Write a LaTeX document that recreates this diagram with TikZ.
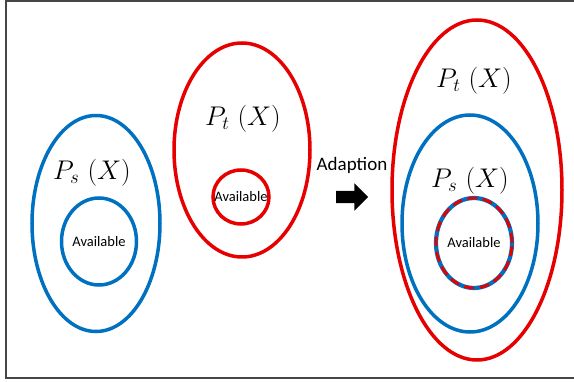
\RequirePackage{fix-cm}
\documentclass[tikz,border=0pt]{standalone}
\usepackage{fontspec}
\setsansfont{Carlito}
\usetikzlibrary{shapes.geometric,shapes.arrows}
\definecolor{setred}{RGB}{230,0,0}
\definecolor{setblue}{RGB}{0,112,192}
\definecolor{framegray}{RGB}{70,70,70}
\tikzset{
    setline/.style = {ellipse, draw, line width=3.5pt, inner sep=0pt},
    setlabel/.style = {font=\fontsize{27}{31}\selectfont},
    avail/.style = {label={[font=\sffamily\fontsize{14.5}{16}\selectfont]center:Available}},
    mixed/.style = {postaction={draw=setred, line width=2.8pt, dash pattern=on 10pt off 5.5pt}},
    adaptarrow/.style = {single arrow, fill=black, inner xsep=0pt, inner ysep=6pt, minimum height=32pt, single arrow head extend=7.5pt}
}

\begin{document}
\begin{tikzpicture}[x=1pt, y=-1pt]
\useasboundingbox (0,0) rectangle (574,382);
% frame
\draw [framegray, line width=2pt] (578,1) -- (5.5,1) -- (5.5,378) -- (578,378);

% source domain
\node (src) [setline, draw=setblue, minimum width=128pt, minimum height=216pt] at (96,223.5) {};
\node (srclabel) [setlabel] at (92,173) {$P_s\ (X)$};
\node (srcavail) [setline, draw=setblue, avail, minimum width=75pt, minimum height=87pt] at (99,241.5) {};

% target domain
\node (tgt) [setline, draw=setred, minimum width=136pt, minimum height=214pt] at (242,150) {};
\node (tgtlabel) [setlabel] at (243,119) {$P_t\ (X)$};
\node (tgtavail) [setline, draw=setred, avail, minimum width=56pt, minimum height=54pt] at (241,197) {};

% adaption step
\node (adaptlabel) [font=\sffamily\fontsize{19}{22}\selectfont] at (352,165) {Adaption};
\node (adapt) [adaptarrow] at (349,197) {};

% after adaption
\node (both) [setline, draw=setred, minimum width=170pt, minimum height=340pt] at (477,190) {};
\node (bothtgt) [setlabel] at (474,81) {$P_t\ (X)$};
\node (bothsrc) [setline, draw=setblue, minimum width=136pt, minimum height=217pt] at (470,223.5) {};
\node (bothsrclabel) [setlabel] at (470,181) {$P_s\ (X)$};
\node (bothavail) [setline, draw=setblue, line width=4.2pt, mixed, avail, minimum width=76pt, minimum height=90pt] at (474,243) {};
\end{tikzpicture}
\end{document}
